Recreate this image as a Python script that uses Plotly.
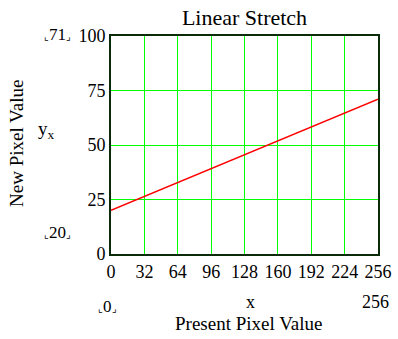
import plotly.graph_objects as go

# Data
x_vals = [0, 256]
y_vals = [20, 71]
x_ticks = [0, 32, 64, 96, 128, 160, 192, 224, 256]
y_ticks = [0, 25, 50, 75, 100]

FONT = "Liberation Serif"
W, H = 398, 339
plot_l, plot_r, plot_t, plot_b = 111, 378, 36, 254

fig = go.Figure()
fig.add_trace(go.Scatter(x=x_vals, y=y_vals, mode="lines",
                         line=dict(color="#ff0000", width=1.5),
                         showlegend=False, hoverinfo="skip"))

axis_common = dict(showgrid=True, gridcolor="#00ff00", gridwidth=1,
                   showline=True, linecolor="#0a2a0a", linewidth=2, mirror=True,
                   zeroline=False, ticks="", ticklen=0,
                   tickfont=dict(family=FONT, size=18, color="black"))

fig.update_layout(
    width=W, height=H,
    margin=dict(l=plot_l, r=W - plot_r, t=plot_t, b=H - plot_b, autoexpand=False),
    paper_bgcolor="white", plot_bgcolor="white",
    font=dict(family=FONT, size=18, color="black"),
    title=dict(text="Linear Stretch", x=0.5, xanchor="center", xref="paper",
               y=1 - 17 / H, yanchor="middle", yref="container",
               font=dict(family=FONT, size=22, color="black")),
    xaxis=dict(range=[0, 256], tickvals=x_ticks, ticktext=[str(v) for v in x_ticks],
               **axis_common),
    yaxis=dict(range=[0, 100], tickvals=y_ticks, ticktext=[str(v) for v in y_ticks],
               **axis_common),
)


def px_ann(text, px, py, size, **kw):
    fig.add_annotation(text=text,
                       x=(px - plot_l) / (plot_r - plot_l),
                       y=(plot_b - py) / (plot_b - plot_t),
                       xref="paper", yref="paper", xanchor="center", yanchor="middle",
                       showarrow=False, font=dict(family=FONT, size=size, color="black"),
                       **kw)


def bracketed(v):
    s = "<span style='font-size:10px'>%s</span>"
    return s % "⌞" + v + s % "⌟"


px_ann(bracketed("71"), 57, 34, 17)
px_ann(bracketed("20"), 57, 232, 17)
px_ann(bracketed("0"), 107, 306, 17)
px_ann("x", 250, 302, 18)
px_ann("256", 375, 302, 18)
px_ann("Present Pixel Value", 248, 323, 19)
px_ann("y<sub>x</sub>", 46, 130, 19)
px_ann("New Pixel Value", 16, 144, 19, textangle=-90)

fig.write_html("out.html", config={"displayModeBar": False},
               post_script="document.body.style.margin='0';")
